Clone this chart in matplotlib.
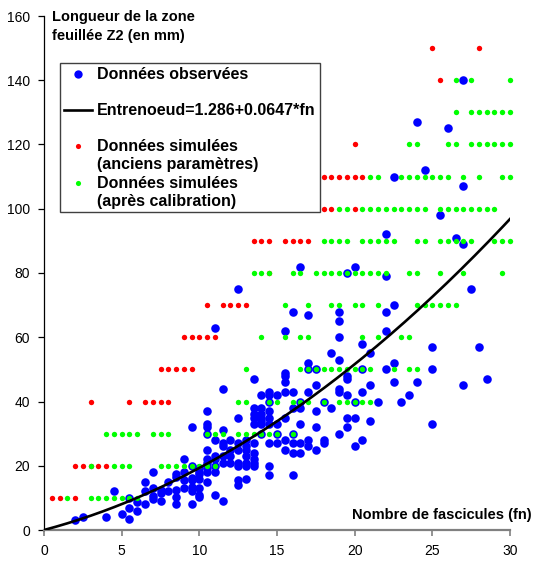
import matplotlib
matplotlib.use('Agg')
import matplotlib.pyplot as plt
from matplotlib.patches import Rectangle
import numpy as np

plt.rcParams['font.family'] = ['Liberation Sans', 'DejaVu Sans']

# observed data: (fn, length in mm)
obs = [
    (2, 3), (2.5, 4), (4, 4), (4.5, 12), (5, 5), (5.5, 3.5), (5.5, 7), (5.5, 10), (6, 6), (6, 8.8),
    (6.5, 8), (6.5, 12), (6.5, 15), (7, 9.5), (7, 10.5), (7, 13), (7, 18), (7.5, 9), (7.5, 11.5),
    (7.5, 12.5), (8, 12), (8, 15), (8.5, 8), (8.5, 10.4), (8.5, 12.4), (8.5, 16.5), (8.5, 17.5),
    (9, 13), (9, 15.5), (9, 18), (9, 22), (9.5, 8), (9.5, 12), (9.5, 13.5), (9.5, 15.5), (9.5, 16.3),
    (9.5, 20), (9.5, 32),
    (10, 10.2), (10, 11), (10, 13), (10, 16), (10, 17.3), (10, 18.2), (10, 19.3),
    (10.5, 15), (10.5, 18), (10.5, 19.3), (10.5, 21), (10.5, 22), (10.5, 25), (10.5, 30), (10.5, 32),
    (10.5, 33), (10.5, 37),
    (11, 11), (11, 18.2), (11, 20), (11, 22), (11, 23), (11, 28), (11, 63),
    (11.5, 9), (11.5, 21), (11.5, 23), (11.5, 26), (11.5, 27), (11.5, 31), (11.5, 44),
    (12, 21), (12, 23), (12, 25), (12, 28),
    (12.5, 14), (12.5, 15.5), (12.5, 20), (12.5, 21), (12.5, 25), (12.5, 27), (12.5, 35), (12.5, 75),
    (13, 16), (13, 20), (13, 21), (13, 23), (13, 25), (13, 26), (13, 28),
    (13.5, 20), (13.5, 21), (13.5, 22), (13.5, 24), (13.5, 27), (13.5, 33), (13.5, 35), (13.5, 36),
    (13.5, 38), (13.5, 47),
    (14, 30), (14, 33), (14, 34), (14, 35), (14, 36), (14, 38), (14, 42),
    (14.5, 17), (14.5, 20), (14.5, 27), (14.5, 33), (14.5, 35), (14.5, 37), (14.5, 40), (14.5, 42),
    (14.5, 43),
    (15, 27), (15, 30), (15, 33), (15, 42),
    (15.5, 25), (15.5, 28), (15.5, 35), (15.5, 43), (15.5, 46), (15.5, 48), (15.5, 49), (15.5, 62),
    (16, 17), (16, 24), (16, 27), (16, 30), (16, 38), (16, 43), (16, 68),
    (16.5, 24), (16.5, 27), (16.5, 33), (16.5, 38), (16.5, 40), (16.5, 82),
    (17, 26), (17, 28), (17, 43), (17, 50), (17, 52), (17, 67),
    (17.5, 25), (17.5, 32), (17.5, 37), (17.5, 45), (17.5, 50),
    (18, 27), (18, 28), (18, 40),
    (18.5, 38), (18.5, 55),
    (19, 30), (19, 43), (19, 44), (19, 53), (19, 60), (19, 65), (19, 68),
    (19.5, 32), (19.5, 35), (19.5, 42), (19.5, 47), (19.5, 48), (19.5, 80),
    (20, 26), (20, 35), (20, 40), (20, 82),
    (20.5, 28), (20.5, 43), (20.5, 50), (20.5, 58),
    (21, 34), (21, 45), (21, 55),
    (21.5, 40),
    (22, 50), (22, 62), (22, 68), (22, 79), (22, 92),
    (22.5, 46), (22.5, 52), (22.5, 70), (22.5, 110),
    (23, 40), (23.5, 42), (24, 46), (24, 127), (24.5, 112),
    (25, 33), (25, 50), (25, 57), (25.5, 98), (26, 125), (26.5, 91),
    (27, 45), (27, 89), (27, 107), (27, 140), (27.5, 75), (28, 57), (28.5, 47),
]

# simulated data, old parameters: length -> fn values
old_sim = {
    10: [0.5, 1, 2],
    20: [2, 2.5, 3, 3.5, 4],
    40: [3, 5.5, 6.5, 7, 7.5, 8],
    50: [7.5, 8, 8.5, 9, 9.5],
    60: [9, 9.5, 10, 10.5, 11],
    70: [10.5, 11.5, 12, 12.5, 13],
    80: [14.5],
    90: [13.5, 14, 14.5, 15.5, 16, 16.5, 17],
    100: [15, 16, 16.5, 17, 18, 18.5, 20],
    110: [17, 17.5, 18, 18.5, 19, 19.5, 20, 20.5],
    120: [20],
    140: [25.5],
    150: [25, 28],
}

# simulated data after calibration
new_sim = {
    10: [1.5, 3, 3.5, 4, 4.5, 5, 5.5, 6],
    20: [3, 4.5, 5, 5.5, 7.5, 8, 8.5, 9, 9.5, 10, 10.5, 11],
    30: [4, 4.5, 5, 5.5, 6, 7, 7.5, 8, 10.5, 11, 11.5, 12.5, 13, 13.5, 14, 14.5, 15, 16],
    40: [12.5, 13, 14.5, 15, 16, 16.5, 17, 18, 19, 19.5, 20, 20.5, 21],
    50: [13, 16.5, 17, 17.5, 18, 18.5, 19, 19.5, 20, 20.5, 21, 22.5, 23.5, 24],
    60: [14, 15.5, 16.5, 17, 20.5, 21.5, 23, 23.5],
    70: [15.5, 17, 18.5, 19, 20, 20.5, 21.5, 24, 24.5, 25, 25.5, 26, 26.5],
    80: [13.5, 14, 14.5, 16, 16.5, 17.5, 18, 18.5, 19, 19.5, 20, 20.5, 21, 21.5, 22,
         23.5, 24, 25.5, 27, 29.5],
    90: [18, 18.5, 19, 19.5, 20.5, 21, 21.5, 22, 22.5, 24, 24.5, 25.5, 26, 26.5, 27, 27.5,
         29, 29.5, 30],
    100: [17.5, 19, 19.5, 20.5, 21, 21.5, 22, 22.5, 23, 23.5, 24, 24.5, 25.5, 26, 26.5,
          27, 27.5, 28, 28.5, 29],
    110: [21, 21.5, 23, 23.5, 24, 24.5, 25, 25.5, 26, 27, 28, 29.5, 30],
    120: [23.5, 24, 26, 26.5, 27.5, 28, 28.5, 29, 29.5, 30],
    130: [26.5, 27.5, 28, 28.5, 29, 29.5, 30],
    140: [26.5, 27.5, 30],
}

# internode model: Entrenoeud = a + b*fn, zone length = fn * Entrenoeud
a, b = 1.286, 0.0647


def flatten(d):
    xs, ys = [], []
    for y, xl in d.items():
        xs += xl
        ys += [y] * len(xl)
    return xs, ys


fig = plt.figure(figsize=(5.35, 5.63), dpi=100)
ax = fig.add_axes([44 / 535, 33 / 563, 466 / 535, 514 / 563])

ox, oy = zip(*obs)
ax.scatter(ox, oy, s=38, color='#0000FF', linewidths=0, zorder=3, clip_on=False)
rx, ry = flatten(old_sim)
ax.scatter(rx, ry, s=15, color='#FF0000', linewidths=0, zorder=4, clip_on=False)
gx, gy = flatten(new_sim)
ax.scatter(gx, gy, s=15, color='#00FF00', linewidths=0, zorder=5, clip_on=False)

fn = np.linspace(0, 30, 200)
ax.plot(fn, fn * (a + b * fn), color='black', lw=1.9, zorder=6)

ax.set_xlim(0, 30)
ax.set_ylim(0, 160)
ax.set_xticks(range(0, 31, 5))
ax.set_yticks(range(0, 161, 20))
for s in ['top', 'right']:
    ax.spines[s].set_visible(False)
ax.spines['bottom'].set_color('#808080')
ax.spines['bottom'].set_linewidth(1.6)
ax.spines['left'].set_color('black')
ax.spines['left'].set_linewidth(0.9)
ax.tick_params(axis='x', direction='out', length=4, width=1.2, color='#808080',
               labelsize=10, pad=6)
ax.tick_params(axis='y', direction='out', length=4, width=0.9, color='black',
               labelsize=10, pad=6)

ax.text(0.017, 0.998, 'Longueur de la zone', transform=ax.transAxes,
        fontsize=10.5, fontweight='bold', va='center', ha='left')
ax.text(0.017, 0.961, 'feuillée Z2 (en mm)', transform=ax.transAxes,
        fontsize=10.5, fontweight='bold', va='center', ha='left')
ax.text(1.047, 0.029, 'Nombre de fascicules (fn)', transform=ax.transAxes,
        fontsize=10.5, fontweight='bold', va='center', ha='right')

# legend box
ax.add_patch(Rectangle((0.034, 0.6187), 0.558, 0.29, transform=ax.transAxes,
                       fill=True, facecolor='white', edgecolor='#404040', lw=1.0, zorder=7))
tx = 0.114
fs = 11.5
ax.plot([0.073], [0.887], 'o', ms=6, color='#0000FF', mec='none', transform=ax.transAxes, zorder=8)
ax.text(tx, 0.887, 'Données observées', transform=ax.transAxes, fontsize=fs,
        fontweight='bold', va='center', zorder=8)
ax.plot([0.043, 0.103], [0.817, 0.817], color='black', lw=1.9, transform=ax.transAxes, zorder=8)
ax.text(tx, 0.817, 'Entrenoeud=%.3f+%.4f*fn' % (a, b), transform=ax.transAxes, fontsize=fs,
        fontweight='bold', va='center', zorder=8)
ax.plot([0.073], [0.747], 'o', ms=3.7, color='#FF0000', mec='none', transform=ax.transAxes, zorder=8)
ax.text(tx, 0.747, 'Données simulées', transform=ax.transAxes, fontsize=fs,
        fontweight='bold', va='center', zorder=8)
ax.text(tx, 0.712, '(anciens paramètres)', transform=ax.transAxes, fontsize=fs,
        fontweight='bold', va='center', zorder=8)
ax.plot([0.073], [0.675], 'o', ms=3.7, color='#00FF00', mec='none', transform=ax.transAxes, zorder=8)
ax.text(tx, 0.675, 'Données simulées', transform=ax.transAxes, fontsize=fs,
        fontweight='bold', va='center', zorder=8)
ax.text(tx, 0.640, '(après calibration)', transform=ax.transAxes, fontsize=fs,
        fontweight='bold', va='center', zorder=8)

fig.savefig('out.png', dpi=100)
